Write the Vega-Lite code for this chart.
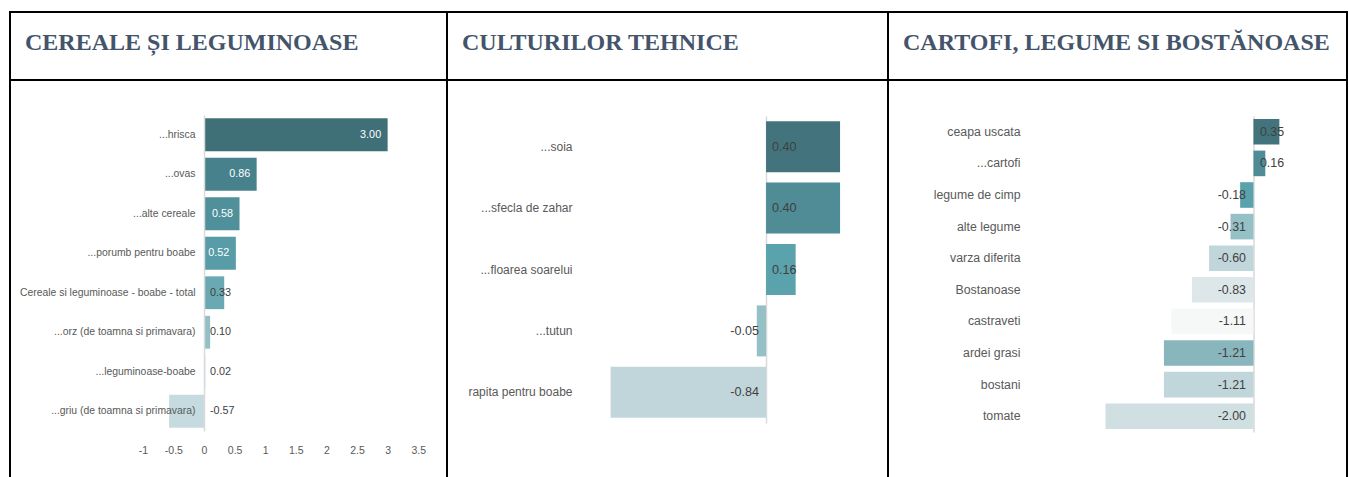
{
  "$schema": "https://vega.github.io/schema/vega-lite/v6.json",
  "padding": {"left": 9, "top": 11, "right": 0, "bottom": 0},
  "autosize": {"type": "pad"},
  "spacing": 0,
  "columns": 3,
  "align": "each",
  "bounds": "flush",
  "resolve": {"scale": {"color": "independent", "x": "independent", "y": "independent"}},
  "config": {
    "view": {"stroke": "#000000", "strokeWidth": 2},
    "axis": {"grid": false},
    "locale": {"number": {"decimal": ".", "thousands": ",", "grouping": [3], "currency": ["$", ""], "minus": "-"}}
  },
  "concat": [
    {
      "width": 437, "height": 68,
      "data": {"values": [{"title": "CEREALE ȘI LEGUMINOASE"}]},
      "mark": {"type": "text", "align": "left", "baseline": "middle", "dx": 15, "font": "Liberation Serif", "fontWeight": "bold", "fontSize": 24, "color": "#44546A"},
      "encoding": {
        "text": {"field": "title"},
        "x": {"datum": 0, "type": "quantitative", "scale": {"domain": [0, 1]}, "axis": null},
        "y": {"datum": 0.54, "type": "quantitative", "scale": {"domain": [0, 1]}, "axis": null}
      }
    },
    {
      "width": 441, "height": 68,
      "data": {"values": [{"title": "CULTURILOR TEHNICE"}]},
      "mark": {"type": "text", "align": "left", "baseline": "middle", "dx": 15, "font": "Liberation Serif", "fontWeight": "bold", "fontSize": 24, "color": "#44546A"},
      "encoding": {
        "text": {"field": "title"},
        "x": {"datum": 0, "type": "quantitative", "scale": {"domain": [0, 1]}, "axis": null},
        "y": {"datum": 0.54, "type": "quantitative", "scale": {"domain": [0, 1]}, "axis": null}
      }
    },
    {
      "width": 459, "height": 68,
      "data": {"values": [{"title": "CARTOFI, LEGUME SI BOSTĂNOASE"}]},
      "mark": {"type": "text", "align": "left", "baseline": "middle", "dx": 15, "font": "Liberation Serif", "fontWeight": "bold", "fontSize": 24, "color": "#44546A"},
      "encoding": {
        "text": {"field": "title"},
        "x": {"datum": 0, "type": "quantitative", "scale": {"domain": [0, 1]}, "axis": null},
        "y": {"datum": 0.54, "type": "quantitative", "scale": {"domain": [0, 1]}, "axis": null}
      }
    },
    {
      "width": 437, "height": 400,
      "data": {"values": [
        {"crop": "...hrisca", "value": 3.00},
        {"crop": "...ovas", "value": 0.86},
        {"crop": "...alte cereale", "value": 0.58},
        {"crop": "...porumb pentru boabe", "value": 0.52},
        {"crop": "Cereale si leguminoase - boabe - total", "value": 0.33},
        {"crop": "...orz (de toamna si primavara)", "value": 0.10},
        {"crop": "...leguminoase-boabe", "value": 0.02},
        {"crop": "...griu (de toamna si primavara)", "value": -0.57}
      ]},
      "encoding": {
        "y": {
          "field": "crop", "type": "nominal", "sort": null,
          "scale": {"range": [35, 351], "paddingInner": 0.17, "paddingOuter": 0.085},
          "axis": {"orient": "left", "offset": -194, "zindex": 1, "title": null, "ticks": false, "tickSize": 0, "domainColor": "#D9D9D9", "domainWidth": 1.5, "labelPadding": 9, "labelFont": "Liberation Sans", "labelFontSize": 10.4, "labelColor": "#595959", "labelLimit": 0}
        }
      },
      "layer": [
        {
          "mark": {"type": "bar"},
          "encoding": {
            "x": {"field": "value", "type": "quantitative", "scale": {"domain": [-3.17, 3.97], "nice": false, "zero": false},
              "axis": {"orient": "bottom", "offset": -38, "values": [-1, -0.5, 0, 0.5, 1, 1.5, 2, 2.5, 3, 3.5], "format": "~g", "domain": false, "ticks": false, "tickSize": 0, "labelPadding": 3, "labelFont": "Liberation Sans", "labelFontSize": 10.5, "labelColor": "#595959", "title": null}},
            "x2": {"datum": 0},
            "color": {"field": "crop", "type": "nominal", "legend": null,
              "scale": {"domain": ["...hrisca", "...ovas", "...alte cereale", "...porumb pentru boabe", "Cereale si leguminoase - boabe - total", "...orz (de toamna si primavara)", "...leguminoase-boabe", "...griu (de toamna si primavara)"],
                        "range": ["#3F6F77", "#47818B", "#4F909B", "#579CA7", "#6AA9B3", "#92C0C6", "#ABCFD4", "#C6DBDF"]}}
          }
        },
        {
          "transform": [{"filter": "datum.value >= 0.5"}],
          "mark": {"type": "text", "align": "right", "baseline": "middle", "dx": -6.5, "font": "Liberation Sans", "fontSize": 10.8, "color": "#FFFFFF"},
          "encoding": {
            "x": {"field": "value", "type": "quantitative"},
            "text": {"field": "value", "type": "quantitative", "format": ".2f"}
          }
        },
        {
          "transform": [{"filter": "datum.value < 0.5"}],
          "mark": {"type": "text", "align": "left", "baseline": "middle", "dx": 6, "font": "Liberation Sans", "fontSize": 10.8, "color": "#404040"},
          "encoding": {
            "x": {"datum": 0, "type": "quantitative"},
            "text": {"field": "value", "type": "quantitative", "format": ".2f"}
          }
        }
      ]
    },
    {
      "width": 441, "height": 400,
      "data": {"values": [
        {"crop2": "...soia", "value": 0.40},
        {"crop2": "...sfecla de zahar", "value": 0.40},
        {"crop2": "...floarea soarelui", "value": 0.16},
        {"crop2": "...tutun", "value": -0.05},
        {"crop2": "rapita pentru boabe", "value": -0.84}
      ]},
      "encoding": {
        "y": {
          "field": "crop2", "type": "nominal", "sort": null,
          "scale": {"range": [36, 343], "paddingInner": 0.17, "paddingOuter": 0.085},
          "axis": {"orient": "left", "offset": -319, "title": null, "ticks": false, "tickSize": 0, "domainColor": "#D9D9D9", "domainWidth": 1.5, "labelPadding": 194, "labelFont": "Liberation Sans", "labelFontSize": 12, "labelColor": "#595959", "labelLimit": 0}
        }
      },
      "layer": [
        {
          "mark": {"type": "bar"},
          "encoding": {
            "x": {"field": "value", "type": "quantitative", "scale": {"domain": [-1.724, 0.659], "nice": false, "zero": false}, "axis": null},
            "x2": {"datum": 0},
            "color": {"field": "crop2", "type": "nominal", "legend": null,
              "scale": {"domain": ["...soia", "...sfecla de zahar", "...floarea soarelui", "...tutun", "rapita pentru boabe"],
                        "range": ["#43747D", "#4F8C96", "#5AA2AC", "#94C0C6", "#C1D6DA"]}}
          }
        },
        {
          "transform": [{"filter": "datum.value >= 0"}],
          "mark": {"type": "text", "align": "left", "baseline": "middle", "dx": 6, "font": "Liberation Sans", "fontSize": 12.6, "color": "#404040"},
          "encoding": {
            "x": {"datum": 0, "type": "quantitative"},
            "text": {"field": "value", "type": "quantitative", "format": ".2f"}
          }
        },
        {
          "transform": [{"filter": "datum.value < 0"}],
          "mark": {"type": "text", "align": "right", "baseline": "middle", "dx": -7, "font": "Liberation Sans", "fontSize": 12.6, "color": "#404040"},
          "encoding": {
            "x": {"datum": 0, "type": "quantitative"},
            "text": {"field": "value", "type": "quantitative", "format": ".2f"}
          }
        }
      ]
    },
    {
      "width": 459, "height": 400,
      "data": {"values": [
        {"crop3": "ceapa uscata", "value": 0.35},
        {"crop3": "...cartofi", "value": 0.16},
        {"crop3": "legume de cimp", "value": -0.18},
        {"crop3": "alte legume", "value": -0.31},
        {"crop3": "varza diferita", "value": -0.60},
        {"crop3": "Bostanoase", "value": -0.83},
        {"crop3": "castraveti", "value": -1.11},
        {"crop3": "ardei grasi", "value": -1.21},
        {"crop3": "bostani", "value": -1.21},
        {"crop3": "tomate", "value": -2.00}
      ]},
      "encoding": {
        "y": {
          "field": "crop3", "type": "nominal", "sort": null,
          "scale": {"range": [36, 352], "paddingInner": 0.19, "paddingOuter": 0.095},
          "axis": {"orient": "left", "offset": -365.5, "title": null, "ticks": false, "tickSize": 0, "domainColor": "#D9D9D9", "domainWidth": 1.5, "labelPadding": 233.5, "labelFont": "Liberation Sans", "labelFontSize": 12.3, "labelColor": "#595959", "labelLimit": 0}
        }
      },
      "layer": [
        {
          "mark": {"type": "bar"},
          "encoding": {
            "x": {"field": "value", "type": "quantitative", "scale": {"domain": [-4.939, 1.264], "nice": false, "zero": false}, "axis": null},
            "x2": {"datum": 0},
            "color": {"field": "crop3", "type": "nominal", "legend": null,
              "scale": {"domain": ["ceapa uscata", "...cartofi", "legume de cimp", "alte legume", "varza diferita", "Bostanoase", "castraveti", "ardei grasi", "bostani", "tomate"],
                        "range": ["#43747D", "#4F8C96", "#5AA2AC", "#94C0C6", "#C1D6DA", "#DDE7E9", "#F6F8F8", "#89B5BC", "#C1D6DA", "#CFDFE2"]}}
          }
        },
        {
          "transform": [{"filter": "datum.value >= 0"}],
          "mark": {"type": "text", "align": "left", "baseline": "middle", "dx": 6.5, "font": "Liberation Sans", "fontSize": 12.4, "color": "#404040"},
          "encoding": {
            "x": {"datum": 0, "type": "quantitative"},
            "text": {"field": "value", "type": "quantitative", "format": ".2f"}
          }
        },
        {
          "transform": [{"filter": "datum.value < 0"}],
          "mark": {"type": "text", "align": "right", "baseline": "middle", "dx": -7.5, "font": "Liberation Sans", "fontSize": 12.4, "color": "#404040"},
          "encoding": {
            "x": {"datum": 0, "type": "quantitative"},
            "text": {"field": "value", "type": "quantitative", "format": ".2f"}
          }
        }
      ]
    }
  ]
}
